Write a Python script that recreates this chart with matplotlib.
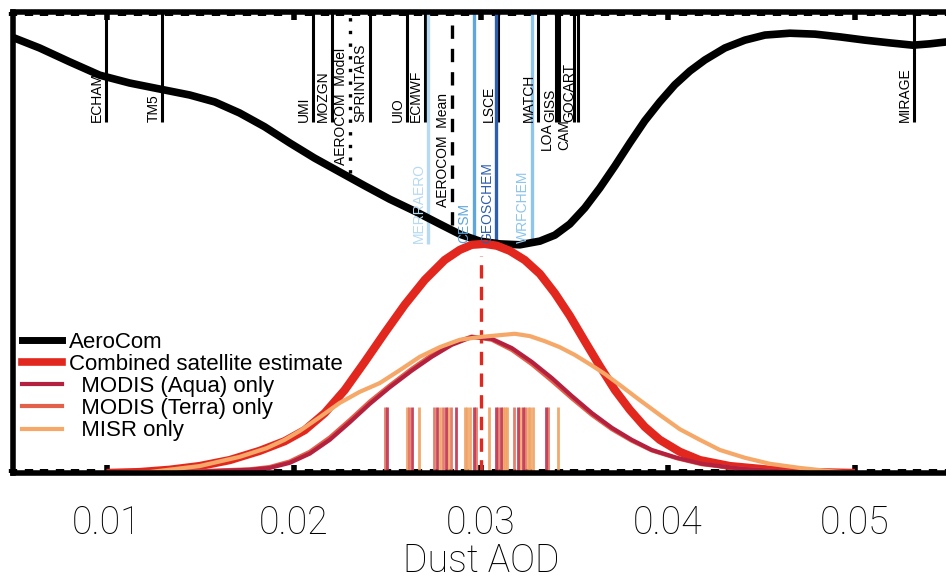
import numpy as np
import matplotlib.pyplot as plt
from matplotlib.lines import Line2D
from matplotlib.ticker import MultipleLocator
import matplotlib.transforms as mtransforms

plt.rcParams['font.family'] = ['Liberation Sans', 'DejaVu Sans']

# --- AeroCom model density (drawn hanging from the top of the panel) ---
aerocom_x = [0.00492, 0.00642, 0.00802, 0.00963, 0.01123, 0.01283, 0.01444, 0.01578,
             0.01711, 0.01845, 0.01979, 0.02112, 0.02246, 0.02380, 0.02513, 0.02647,
             0.02781, 0.02888, 0.02995, 0.03102, 0.03209, 0.03316, 0.03396, 0.03476,
             0.03556, 0.03636, 0.03717, 0.03797, 0.03877, 0.03957, 0.04037, 0.04118,
             0.04198, 0.04305, 0.04412, 0.04519, 0.04652, 0.04786, 0.04920, 0.05053,
             0.05187, 0.05310, 0.05401, 0.05487]
aerocom_d = [0.054, 0.078, 0.108, 0.137, 0.154, 0.167, 0.180, 0.195,
             0.219, 0.249, 0.284, 0.317, 0.347, 0.377, 0.406, 0.432,
             0.460, 0.482, 0.497, 0.503, 0.505, 0.497, 0.484, 0.460,
             0.425, 0.382, 0.334, 0.284, 0.236, 0.195, 0.158, 0.128,
             0.104, 0.078, 0.061, 0.050, 0.046, 0.048, 0.054, 0.061,
             0.067, 0.072, 0.069, 0.065]

# --- satellite densities ---
comb_x = [0.0100, 0.01176, 0.01337, 0.01497, 0.01658, 0.01818, 0.01952, 0.02059,
          0.02166, 0.02273, 0.02380, 0.02487, 0.02594, 0.02701, 0.02807, 0.02888,
          0.02952, 0.03021, 0.03086, 0.03155, 0.03235, 0.03316, 0.03396, 0.03476,
          0.03556, 0.03636, 0.03717, 0.03797, 0.03877, 0.03957, 0.04064, 0.04171,
          0.04332, 0.04545, 0.04759, 0.0500]
comb_d = [0.000, 0.002, 0.007, 0.015, 0.028, 0.048, 0.069, 0.093,
          0.130, 0.180, 0.241, 0.304, 0.365, 0.419, 0.462, 0.484,
          0.495, 0.497, 0.493, 0.482, 0.462, 0.432, 0.390, 0.341,
          0.286, 0.232, 0.180, 0.137, 0.100, 0.072, 0.046, 0.028,
          0.015, 0.007, 0.002, 0.000]

modis_x = [0.0100, 0.01230, 0.01497, 0.01765, 0.01872, 0.01979, 0.02086, 0.02193,
           0.02300, 0.02407, 0.02514, 0.02631, 0.02738, 0.02845, 0.02952, 0.03059,
           0.03166, 0.03273, 0.03380, 0.03487, 0.03594, 0.03701, 0.03807, 0.03914,
           0.04048, 0.04182, 0.04396, 0.04663, 0.0500]
aqua_d = [0.000, 0.001, 0.003, 0.007, 0.011, 0.022, 0.042, 0.072,
          0.110, 0.150, 0.186, 0.222, 0.252, 0.278, 0.295, 0.291,
          0.271, 0.241, 0.206, 0.167, 0.130, 0.098, 0.072, 0.050,
          0.033, 0.020, 0.009, 0.002, 0.000]
terra_d = [0.000, 0.001, 0.004, 0.008, 0.013, 0.025, 0.046, 0.077,
           0.115, 0.155, 0.190, 0.226, 0.256, 0.281, 0.296, 0.289,
           0.267, 0.236, 0.200, 0.162, 0.126, 0.095, 0.070, 0.049,
           0.032, 0.019, 0.009, 0.002, 0.000]

misr_x = [0.0100, 0.01230, 0.01497, 0.01711, 0.01856, 0.01952, 0.02032, 0.02139,
          0.02246, 0.02353, 0.02460, 0.02567, 0.02674, 0.02781, 0.02888, 0.02995,
          0.03102, 0.03182, 0.03262, 0.03342, 0.03422, 0.03503, 0.03583, 0.03663,
          0.03743, 0.03850, 0.03957, 0.04064, 0.04171, 0.04278, 0.04412, 0.04545,
          0.04706, 0.04866, 0.0500]
misr_d = [0.000, 0.002, 0.015, 0.035, 0.054, 0.072, 0.091, 0.121,
          0.152, 0.176, 0.195, 0.223, 0.252, 0.273, 0.289, 0.295,
          0.299, 0.302, 0.297, 0.286, 0.273, 0.256, 0.236, 0.215,
          0.191, 0.158, 0.126, 0.095, 0.072, 0.050, 0.033, 0.020,
          0.011, 0.004, 0.000]

# --- individual retrievals (rug) ---
aqua_rug = [0.02497, 0.02631, 0.02765, 0.02813, 0.02866, 0.02963, 0.03080, 0.03107,
            0.03198, 0.03225, 0.03348]
terra_rug = [0.02487, 0.02615, 0.02749, 0.02797, 0.02840, 0.02973, 0.03091, 0.03176,
             0.03235, 0.03358]
misr_rug = [0.02604, 0.02668, 0.02781, 0.02824, 0.02914, 0.02925, 0.02941, 0.03043,
            0.03118, 0.03128, 0.03139, 0.03209, 0.03251, 0.03262, 0.03278, 0.03412]
comb_mean = 0.0300

# --- AeroCom models ---
model_names = ['ECHAM', 'TM5', 'UMI', 'MOZGN', 'SPRINTARS', 'UIO', 'ECMWF', 'LSCE',
               'MATCH', 'LOA', 'GISS', 'CAM', 'GOCART', 'MIRAGE']
model_aod = [0.00995, 0.01299, 0.02102, 0.02203, 0.02406, 0.02604, 0.02701, 0.03093,
             0.03305, 0.03401, 0.03420, 0.03497, 0.03521, 0.05316]
model_lab_y = [0.761, 0.761, 0.761, 0.761, 0.761, 0.761, 0.761, 0.761,
               0.761, 0.701, 0.761, 0.701, 0.761, 0.761]

blue_names = ['MERRAERO', 'CESM', 'GEOSCHEM', 'WRFCHEM']
blue_aod = [0.02717, 0.02963, 0.03083, 0.03275]
blue_colors = ['#b6daf2', '#5ea6dc', '#2e5fad', '#8ec5ec']

aerocom_mean = 0.02848
aerocom_model = 0.0230

fig = plt.figure(figsize=(9.46, 5.8), dpi=100)
ax = fig.add_axes([13 / 946, 107 / 580, 935.5 / 946, 461 / 580])
ax.set_xlim(0.005, 0.055)
ax.set_ylim(0, 1)

lab_off = mtransforms.offset_copy(ax.transData, fig=fig, x=-1.5, y=0, units='points')
narrow = ['Liberation Sans Narrow', 'Liberation Sans']

# model lines + labels
for name, xv, ly in zip(model_names, model_aod, model_lab_y):
    ax.plot([xv, xv], [0.761, 1.0], color='black', lw=2.2, solid_capstyle='butt')
    ax.text(xv, ly, name, rotation=90, ha='right', va='bottom', fontsize=10,
            family=narrow, transform=lab_off)

for name, xv, c in zip(blue_names, blue_aod, blue_colors):
    ax.plot([xv, xv], [0.497, 1.0], color=c, lw=2.4, solid_capstyle='butt')
    ax.text(xv, 0.499, name, rotation=90, ha='right', va='bottom', fontsize=10, color=c,
            family=narrow, transform=lab_off)

ax.plot([aerocom_mean, aerocom_mean], [0.538, 1.0], color='black', lw=2.4,
        dashes=(4, 3), solid_capstyle='butt')
ax.text(aerocom_mean, 0.577, 'AEROCOM  Mean', rotation=90, ha='right', va='bottom',
        fontsize=10, family=narrow, transform=lab_off)
ax.plot([aerocom_model, aerocom_model], [0.651, 1.0], color='black', lw=2.4,
        dashes=(1, 2.8))
ax.text(aerocom_model, 0.668, 'AEROCOM  Model', rotation=90, ha='right', va='bottom',
        fontsize=10, family=narrow, transform=lab_off)

# AeroCom curve, mirrored from the top
ax.plot(aerocom_x, 1 - np.array(aerocom_d), color='black', lw=5.5,
        solid_joinstyle='round')

# rug of individual retrievals
ax.vlines(misr_rug, 0, 0.143, color='#f0a060', lw=2, alpha=0.9)
ax.vlines(terra_rug, 0, 0.143, color='#e2705e', lw=2, alpha=0.9)
ax.vlines(aqua_rug, 0, 0.143, color='#c0304f', lw=2, alpha=0.9)

ax.plot([comb_mean, comb_mean], [0, 0.47], color='#e2281e', lw=2.4, dashes=(4, 2.5))

ax.plot(comb_x, comb_d, color='#e2281e', lw=6, solid_capstyle='butt',
        solid_joinstyle='round')
ax.plot(modis_x, terra_d, color='#e3604a', lw=3, solid_joinstyle='round')
ax.plot(modis_x, aqua_d, color='#b3213f', lw=3, solid_joinstyle='round')
ax.plot(misr_x, misr_d, color='#f5a868', lw=3, solid_joinstyle='round')

handles = [Line2D([], [], color='black', lw=5),
           Line2D([], [], color='#e2281e', lw=5.5),
           Line2D([], [], color='#b3213f', lw=3),
           Line2D([], [], color='#e3604a', lw=3),
           Line2D([], [], color='#f5a868', lw=3)]
labels = ['AeroCom', 'Combined satellite estimate', '  MODIS (Aqua) only',
          '  MODIS (Terra) only', '  MISR only']
ax.legend(handles, labels, loc='upper left', bbox_to_anchor=(0.0096, 0.306),
          frameon=False, fontsize=16, handlelength=1.8, handletextpad=0.3,
          labelspacing=0.05, borderpad=0, borderaxespad=0)

# axes styling
for s in ['top', 'bottom', 'left']:
    ax.spines[s].set_linewidth(4)
ax.spines['right'].set_visible(False)
ax.set_yticks([])
ax.xaxis.set_major_locator(MultipleLocator(0.01))
ax.xaxis.set_minor_locator(MultipleLocator(0.01 / 12))
ax.tick_params(axis='x', which='major', direction='in', top=True, bottom=True,
               length=6, width=4, pad=23, labelsize=27)
ax.tick_params(axis='x', which='minor', direction='in', top=True, bottom=True,
               length=3, width=6)
ax.set_xticks([0.01, 0.02, 0.03, 0.04, 0.05])
ax.set_xticklabels(['0.01', '0.02', '0.03', '0.04', '0.05'],
                   family=['Roboto', 'DejaVu Sans'], fontweight='light')
ax.set_xlabel('Dust AOD', fontsize=27, labelpad=0,
              family=['Roboto', 'DejaVu Sans'], fontweight='light')

fig.savefig('out.png', dpi=100)
